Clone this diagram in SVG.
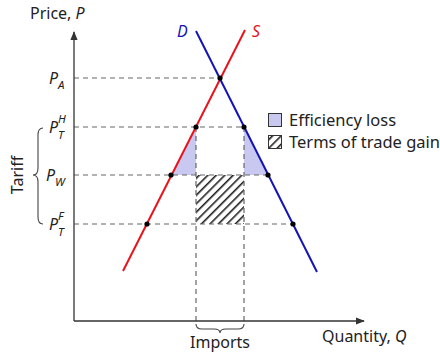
<svg xmlns="http://www.w3.org/2000/svg" width="440" height="352" viewBox="0 0 440 352">
<defs>
<style>
text{font-family:"Source Sans Pro","Noto Sans","Liberation Sans",sans-serif;font-size:16px;fill:#222}
.it{font-style:italic}
.sm{font-size:11.5px;font-style:italic}
.dash{stroke:#666;stroke-width:1.2;stroke-dasharray:5,4;fill:none}
.axis{stroke:#333;stroke-width:1.3;fill:none}
.dot{fill:#000}
.loss{fill:#c8c8f0}
.brace{stroke:#444;stroke-width:1.1;fill:none}
</style>
<marker id="arr" viewBox="0 0 10 10" refX="9" refY="5" markerWidth="7" markerHeight="7" orient="auto">
<path d="M0,1 L10,5 L0,9 Z" fill="#333"/>
</marker>
<pattern id="hatch" patternUnits="userSpaceOnUse" width="6" height="6" patternTransform="rotate(45)">
<rect x="0" y="0" width="1.6" height="6" fill="#222"/>
</pattern>
</defs>
<rect width="440" height="352" fill="#fff"/>
<g id="areas">
<polygon class="loss" points="196,127 171,175 196,175"/>
<polygon class="loss" points="244,127 268,175 244,175"/>
<rect x="196" y="175" width="48" height="49" fill="url(#hatch)"/>
</g>
<g id="connectors">
<line class="dash" x1="74" y1="78" x2="220" y2="78"/>
<line class="dash" x1="74" y1="127" x2="244" y2="127"/>
<line class="dash" x1="74" y1="175" x2="268" y2="175"/>
<line class="dash" x1="74" y1="224" x2="293" y2="224"/>
<line class="dash" x1="196" y1="127" x2="196" y2="324"/>
<line class="dash" x1="244" y1="127" x2="244" y2="324"/>
<line class="axis" x1="74" y1="321" x2="74" y2="32" marker-end="url(#arr)"/>
<line class="axis" x1="74" y1="321" x2="364" y2="321" marker-end="url(#arr)"/>
</g>
<g id="supply">
<line x1="123" y1="271" x2="245" y2="30" stroke="#e8141c" stroke-width="2"/>
<text x="252" y="37" class="it" style="fill:#e8141c">S</text>
</g>
<g id="demand">
<line x1="196" y1="31" x2="317" y2="272" stroke="#1414b4" stroke-width="2"/>
<text x="177" y="37" class="it" style="fill:#1414b4">D</text>
</g>
<g id="points">
<circle class="dot" cx="220" cy="78" r="2.6"/>
<circle class="dot" cx="196" cy="127" r="2.6"/>
<circle class="dot" cx="244" cy="127" r="2.6"/>
<circle class="dot" cx="171" cy="175" r="2.6"/>
<circle class="dot" cx="268" cy="175" r="2.6"/>
<circle class="dot" cx="147" cy="224" r="2.6"/>
<circle class="dot" cx="293" cy="224" r="2.6"/>
</g>
<g id="labels">
<text x="30" y="19">Price, <tspan class="it">P</tspan></text>
<text x="322" y="342">Quantity, <tspan class="it">Q</tspan></text>
<text x="220" y="348" text-anchor="middle">Imports</text>
<text x="49" y="84" class="it">P</text><text x="58" y="89" class="sm">A</text>
<text x="49" y="133" class="it">P</text><text x="58" y="123" class="sm">H</text><text x="58" y="139" class="sm">T</text>
<text x="46" y="181" class="it">P</text><text x="55" y="186" class="sm">W</text>
<text x="49" y="230" class="it">P</text><text x="58" y="220" class="sm">F</text><text x="58" y="236" class="sm">T</text>
<text transform="translate(23,175) rotate(-90)" text-anchor="middle">Tariff</text>
</g>
<g id="braces">
<path class="brace" d="M43,128 Q38,128 38,135 L38,168 Q38,175 33,175 Q38,175 38,182 L38,217 Q38,224 43,224"/>
<path class="brace" d="M196,324 Q196,329 202,329 L214,329 Q220,329 220,333 Q220,329 226,329 L238,329 Q244,329 244,324"/>
</g>
<g id="legend">
<rect x="268.5" y="113.5" width="13" height="13" fill="#c8c8f0" stroke="#333" stroke-width="1"/>
<text x="289" y="126" style="font-size:16.5px">Efficiency loss</text>
<rect x="268.5" y="135.5" width="13" height="13" fill="url(#hatch)" stroke="#333" stroke-width="1"/>
<text x="289" y="148" style="font-size:16.5px">Terms of trade gain</text>
</g>
</svg>
